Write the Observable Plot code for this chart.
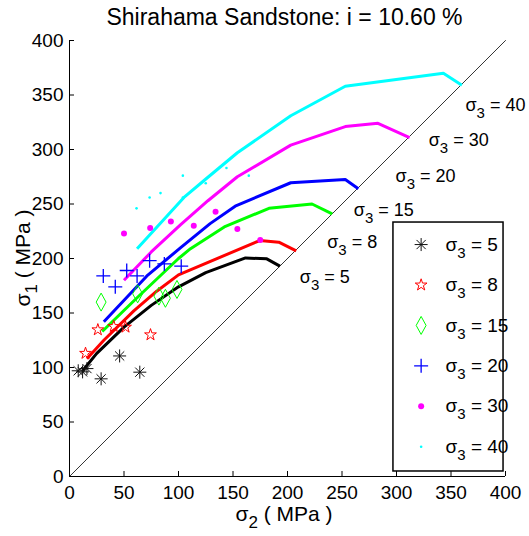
<!DOCTYPE html>
<html><head><meta charset="utf-8">
<script src="https://cdn.jsdelivr.net/npm/d3@7"></script>
<script src="https://cdn.jsdelivr.net/npm/@observablehq/plot@0.6"></script>
<style>
body{margin:0;background:#fff;width:529px;height:536px;overflow:hidden;font-family:"Liberation Sans Narrow","Liberation Sans",sans-serif;}
#title{height:20px;line-height:34px;font-size:23px;padding-left:40px;width:489px;text-align:center;white-space:nowrap;color:#000;}
#chart svg{overflow:visible;}
</style></head><body>
<div id="title">Shirahama Sandstone: i = 10.60 %</div>
<div id="chart"></div>
<script>
// ---------- data ----------
const sigma3Levels = [5, 8, 15, 20, 30, 40];
const xTicks = [0, 50, 100, 150, 200, 250, 300, 350, 400];
const yTicks = [0, 50, 100, 150, 200, 250, 300, 350, 400];
const diagonal = [0, 400]; // sigma1 = sigma2 line

// test points [sigma2, sigma1]
const tests5  = [[8,97],[12,96],[16,99],[29,89.6],[46,110.6],[64.5,95.7]];
const tests8  = [[14.7,113],[26,134.6],[40.6,137.6],[51.4,137],[74.3,130]];
const tests15 = [[29,160],[62.5,167.6],[82,165.5],[88,163.5],[98.6,171.6]];
const tests20 = [[31,184],[42,174],[52.5,189],[62,184],[73.5,198],[87,195],[102.5,193]];
const tests30 = [[50,223],[74,228],[93,234],[114,230],[134,243],[154,227],[175,217]];
const tests40 = [[61.5,246],[73.5,256],[83.5,260],[104,256],[104,276],[125,269],[144,283],[164.5,276]];

// model curves [sigma2, sigma1]
const curve5  = [[12,97],[25,113],[50,137],[75,157],[100,174],[125,187],[161.5,200.5],[181,199.7],[193,193]];
const curve8  = [[16,108],[31.5,125],[59,152],[80,170],[100,185],[174.6,216.5],[192,215],[208,207]];
const curve15 = [[30,133],[62,164],[100,200],[111,209],[142,229],[183,246],[222.5,250],[241,241]];
const curve20 = [[31.5,142],[71,184],[102,210],[129,232],[152,248],[203,269.5],[253,272.5],[265,264]];
const curve30 = [[50,180],[75,206],[102,231],[127,253],[154,275],[203,304],[253,321],[283,324],[312,311]];
const curve40 = [[62,209],[105,256],[124,272],[154,297],[203,331],[253,358],[343,370],[360,359]];

const testsAll  = [tests5, tests8, tests15, tests20, tests30, tests40];
const curvesAll = [curve5, curve8, curve15, curve20, curve30, curve40];

// ---------- layout / style ----------
const colors = {5:"#000000", 8:"#ff0000", 15:"#00ff00", 20:"#0000ff", 30:"#ff00ff", 40:"#00ffff"};
// label anchor positions near the diagonal (data units)
const labelPos = {5:[211.3,182.8], 8:[236.4,215], 15:[260.8,244.7], 20:[299.1,275.2], 30:[329.6,308.3], 40:[363.3,340.4]};
const LEG = {x1:297.2, x2:398.2, y1:4.6, y2:233, markerX:322.6, textX:345, rowTop:212.8, rowStep:37.1};
const TICK = 4.6;

const sym = {
  asterisk:{draw(c,size){const r=Math.sqrt(size/Math.PI),d=r*Math.SQRT1_2;
    c.moveTo(-r,0);c.lineTo(r,0);c.moveTo(0,-r);c.lineTo(0,r);
    c.moveTo(-d,-d);c.lineTo(d,d);c.moveTo(-d,d);c.lineTo(d,-d);}},
  star:{draw(c,size){const R=Math.sqrt(size/Math.PI),ri=R*0.382;
    for(let i=0;i<10;i++){const a=-Math.PI/2+i*Math.PI/5,rr=i%2?ri:R;const x=rr*Math.cos(a),y=rr*Math.sin(a);i?c.lineTo(x,y):c.moveTo(x,y);}c.closePath();}},
  diamond:{draw(c,size){const R=Math.sqrt(size/Math.PI),w=R*0.55;
    c.moveTo(0,-R);c.lineTo(w,0);c.lineTo(0,R);c.lineTo(-w,0);c.closePath();}},
  plus:{draw(c,size){const R=Math.sqrt(size/Math.PI);
    c.moveTo(-R,0);c.lineTo(R,0);c.moveTo(0,-R);c.lineTo(0,R);}}
};
const markerStyle = {
  5:{symbol:sym.asterisk, r:6.5, stroke:"#111", fill:"none", strokeWidth:1},
  8:{symbol:sym.star, r:6.2, stroke:"#ff0000", fill:"none", strokeWidth:1},
  15:{symbol:sym.diamond, r:9, stroke:"#00ff00", fill:"none", strokeWidth:1},
  20:{symbol:sym.plus, r:7, stroke:"#0000ff", fill:"none", strokeWidth:1.3},
  30:{symbol:"circle", r:3, stroke:"none", fill:"#ff00ff"},
  40:{symbol:"circle", r:1.3, stroke:"none", fill:"#00ffff"}
};

// ---------- tables ----------
const testRows = [], curveRows = [];
sigma3Levels.forEach((s3,i)=>{
  testsAll[i].forEach(([s2,s1])=>testRows.push({s3,s2,s1}));
  curvesAll[i].forEach(([s2,s1])=>curveRows.push({s3,s2,s1}));
});
const labelRows = sigma3Levels.map(s3=>({s3, x:labelPos[s3][0], y:labelPos[s3][1], text:`σ3 = ${s3}`}));
const legendRows = sigma3Levels.map((s3,i)=>({s3, y:LEG.rowTop - i*LEG.rowStep, text:`σ3 = ${s3}`}));

const marks = [
  Plot.line(diagonal, {x:d=>d, y:d=>d, stroke:"#000", strokeWidth:0.8}),
  ...sigma3Levels.map(s3=>Plot.line(curveRows.filter(d=>d.s3===s3), {x:"s2", y:"s1", stroke:colors[s3], strokeWidth:3, strokeLinecap:"butt"})),
  ...sigma3Levels.map(s3=>Plot.dot(testRows.filter(d=>d.s3===s3), {x:"s2", y:"s1", ...markerStyle[s3]})),
  Plot.text(labelRows, {x:"x", y:"y", text:"text", textAnchor:"start", lineAnchor:"middle", fontSize:18, fill:"#000"}),
  Plot.rect([LEG], {x1:"x1", x2:"x2", y1:"y1", y2:"y2", fill:"white", stroke:"#000", strokeWidth:1.5}),
  ...sigma3Levels.map((s3,i)=>Plot.dot([legendRows[i]], {x:()=>LEG.markerX, y:"y", ...markerStyle[s3]})),
  Plot.text(legendRows, {x:()=>LEG.textX, y:"y", text:"text", textAnchor:"start", lineAnchor:"middle", fontSize:19, fill:"#000"}),
  Plot.ruleY([0], {x1:0, x2:400, stroke:"#000"}),
  Plot.ruleX([0], {y1:0, y2:400, stroke:"#000"}),
  Plot.ruleX(xTicks, {x:d=>d, y1:0, y2:TICK, stroke:"#000"}),
  Plot.ruleY(yTicks, {y:d=>d, x1:0, x2:TICK, stroke:"#000"}),
  Plot.axisX({ticks:xTicks, tickSize:0, tickPadding:9, label:null, tickFormat:d=>String(d)}),
  Plot.axisY({ticks:yTicks, tickSize:0, tickPadding:6, label:null, tickFormat:d=>String(d)})
];

const chart = Plot.plot({
  width:529, height:516,
  marginLeft:69, marginRight:24, marginTop:20, marginBottom:60,
  x:{domain:[0,400]}, y:{domain:[0,400]},
  style:{fontFamily:'"Liberation Sans Narrow","Liberation Sans",sans-serif', fontSize:"19px", background:"none", color:"#000", overflow:"visible"},
  marks
});
document.getElementById("chart").appendChild(chart);

// ---------- subscripts and axis titles ----------
const svg = d3.select(chart);
function subscriptify(textSel, subSize, shift){
  textSel.each(function(){
    const t = this.textContent;
    const m = /^σ(\d)(.*)$/.exec(t);
    if(!m) return;
    const el = d3.select(this);
    el.text(null);
    el.append("tspan").text("σ");
    el.append("tspan").attr("dy", shift).attr("font-size", subSize).text(m[1]);
    el.append("tspan").attr("dy", -shift).text(m[2]);
  });
}
subscriptify(svg.selectAll("text"), 15, 7);

const xl = svg.append("text").attr("x",284).attr("y",501).attr("text-anchor","middle").attr("font-size",21).attr("fill","#000");
xl.text("σ2 ( MPa )");
subscriptify(xl, 17, 7);
const yl = svg.append("text").attr("transform","translate(30,238) rotate(-90)").attr("text-anchor","middle").attr("font-size",21).attr("fill","#000");
yl.text("σ1 ( MPa )");
subscriptify(yl, 17, 7);
</script></body></html>
